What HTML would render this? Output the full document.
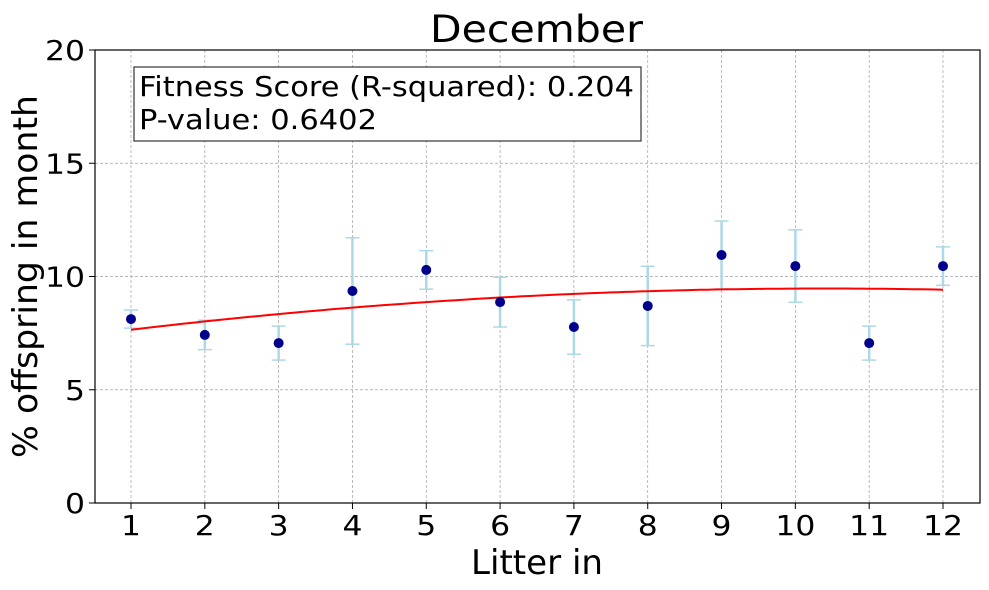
<!DOCTYPE html>
<html><head><meta charset="utf-8"><style>
body{margin:0;background:#fff;}
svg{font-family:"DejaVu Sans","Liberation Sans",sans-serif;}
</style></head><body>
<svg id="chart" width="989" height="590" style="position:absolute;left:0;top:0"></svg>
<script>
const categories=[1,2,3,4,5,6,7,8,9,10,11,12];
const values=[8.12,7.42,7.06,9.36,10.29,8.87,7.77,8.70,10.95,10.46,7.06,10.46];
const errors=[0.4,0.65,0.75,2.35,0.85,1.1,1.2,1.75,1.5,1.6,0.75,0.85];
const fitCoeffs=[7.242,0.4285,-0.0206];
const yTicks=[0,5,10,15,20];
const NS="http://www.w3.org/2000/svg";
const svg=document.getElementById('chart');
const L=95,R=980,T=50,B=503;
const xs=v=>131+(v-1)*(943-131)/11;
const ys=v=>B-(v/20)*(B-T);
function mk(t,a,p){const e=document.createElementNS(NS,t);for(const k in a)e.setAttribute(k,a[k]);(p||svg).appendChild(e);return e;}
const CW=20;
yTicks.forEach(t=>{
 const g=mk('line',{x1:L,x2:R,y1:ys(t),y2:ys(t),stroke:'#a0a0a0','stroke-width':0.7,'stroke-dasharray':'3,2'});
 
 
 const tk=mk('line',{x1:L-6,x2:L,y1:ys(t),y2:ys(t),stroke:'#000'});
 
 
 const s=String(t);
 const tx=mk('text',{x:L-10,y:ys(t)+10,'text-anchor':'end','font-size':28,textLength:s.length*CW,lengthAdjust:'spacingAndGlyphs'});
 tx.textContent=s;
 
 
});
categories.forEach(c=>{
 const g=mk('line',{x1:xs(c),x2:xs(c),y1:T,y2:B,stroke:'#a0a0a0','stroke-width':0.7,'stroke-dasharray':'3,2'});
 
 
 const tk=mk('line',{x1:xs(c),x2:xs(c),y1:B,y2:B+6,stroke:'#000'});
 
 
 const s=String(c);
 const tx=mk('text',{x:xs(c),y:535,'text-anchor':'middle','font-size':28,textLength:s.length*CW,lengthAdjust:'spacingAndGlyphs'});
 tx.textContent=s;
 
 
});
categories.forEach((c,i)=>{
 const g=mk('g',{stroke:'#add8e6','stroke-width':2.5});
 
 
 const y1=ys(values[i]-errors[i]),y2=ys(values[i]+errors[i]),x=xs(c);
 mk('line',{x1:x,x2:x,y1:y1,y2:y2},g);
 mk('line',{x1:x-7,x2:x+7,y1:y1,y2:y1,'stroke-width':1.5},g);
 mk('line',{x1:x-7,x2:x+7,y1:y2,y2:y2,'stroke-width':1.5},g);
});
let d='';
for(let k=0;k<=110;k++){const x=1+k*0.1;const y=fitCoeffs[0]+fitCoeffs[1]*x+fitCoeffs[2]*x*x;d+=(k?'L':'M')+xs(x).toFixed(1)+','+ys(y).toFixed(1);}
const fl=mk('path',{d:d,fill:'none',stroke:'#ff0000','stroke-width':2});


categories.forEach((c,i)=>{
 const p=mk('circle',{cx:xs(c),cy:ys(values[i]),r:5,fill:'#00008b'});
 
 
});
const fr=mk('rect',{x:L,y:T,width:R-L,height:B-T,fill:'none',stroke:'#000','stroke-width':1.2});


</script>
<svg style="position:absolute;left:0;top:0" width="989" height="590">
<text x="430" y="42" font-size="37" textLength="213" lengthAdjust="spacingAndGlyphs">December</text>
<text x="471" y="574" font-size="34" textLength="132" lengthAdjust="spacingAndGlyphs">Litter in</text>
<text transform="translate(37,458) rotate(-90)" font-size="34" textLength="363" lengthAdjust="spacingAndGlyphs">% offspring in month</text>
<g>
<rect x="134" y="67" width="507" height="74" fill="#fff" stroke="#333" stroke-width="1.2"/>
<text x="139" y="96" font-size="28" textLength="495" lengthAdjust="spacingAndGlyphs">Fitness Score (R-squared): 0.204</text>
<text x="139" y="129" font-size="28" textLength="238" lengthAdjust="spacingAndGlyphs">P-value: 0.6402</text>
</g>
</svg>
</body></html>
